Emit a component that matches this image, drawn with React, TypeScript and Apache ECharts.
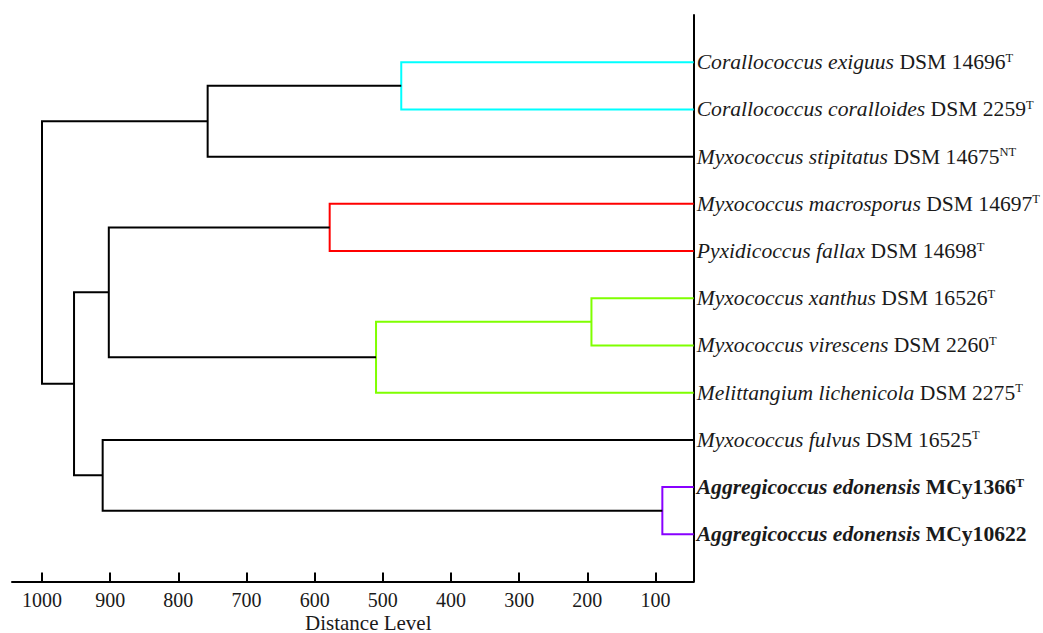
import React, { useEffect, useRef } from "react";
import * as echarts from "echarts";

// Leaves, top to bottom
const leafGenus = [
  "Corallococcus exiguus",
  "Corallococcus coralloides",
  "Myxococcus stipitatus",
  "Myxococcus macrosporus",
  "Pyxidicoccus fallax",
  "Myxococcus xanthus",
  "Myxococcus virescens",
  "Melittangium lichenicola",
  "Myxococcus fulvus",
  "Aggregicoccus edonensis",
  "Aggregicoccus edonensis",
];
const leafStrain = [
  "DSM 14696",
  "DSM 2259",
  "DSM 14675",
  "DSM 14697",
  "DSM 14698",
  "DSM 16526",
  "DSM 2260",
  "DSM 2275",
  "DSM 16525",
  "MCy1366",
  "MCy10622",
];
const leafSup = ["T", "T", "NT", "T", "T", "T", "T", "T", "T", "T", ""];
const leafBold = [false, false, false, false, false, false, false, false, false, true, true];

// Merges: ids 0..10 are leaves, 11.. are merge nodes in order
const mergeA = [0, 11, 3, 5, 14, 13, 9, 8, 16, 12];
const mergeB = [1, 2, 4, 6, 7, 15, 10, 17, 18, 19];
const mergeHeight = [473, 757, 578, 194, 510, 902, 90, 911, 953, 1000];
const mergeColor = [
  "#00FFFF",
  "#000000",
  "#FF0000",
  "#7FFF00",
  "#7FFF00",
  "#000000",
  "#8800FF",
  "#000000",
  "#000000",
  "#000000",
];

const xTicks = [100, 200, 300, 400, 500, 600, 700, 800, 900, 1000];
const axisMinDistance = 44;
const axisMaxDistance = 1044;

export default function App() {
  const ref = useRef<HTMLDivElement>(null);
  useEffect(() => {
    if (!ref.current) return;
    const chart = echarts.init(ref.current, null, { renderer: "svg" });

    const n = leafGenus.length;
    const posX: number[] = [];
    const posY: number[] = [];
    for (let i = 0; i < n; i++) {
      posX.push(axisMinDistance);
      posY.push(i);
    }
    const linesData: any[] = [];
    for (let k = 0; k < mergeA.length; k++) {
      const a = mergeA[k];
      const b = mergeB[k];
      const h = mergeHeight[k];
      posX.push(h);
      posY.push((posY[a] + posY[b]) / 2);
      linesData.push({
        coords: [
          [posX[a], posY[a]],
          [h, posY[a]],
          [h, posY[b]],
          [posX[b], posY[b]],
        ],
        lineStyle: { color: mergeColor[k] },
      });
    }

    const font = "'Liberation Serif', 'Times New Roman', serif";
    const base = { fontFamily: font, fontSize: 21.6, color: "#1a1a1a", lineHeight: 22 };
    const sup = { fontFamily: font, fontSize: 12.5, color: "#1a1a1a", lineHeight: 12, verticalAlign: "top" };

    chart.setOption({
      animation: false,
      backgroundColor: "#ffffff",
      grid: { left: 12, right: 346.5, top: 15, bottom: 51.5, containLabel: false },
      xAxis: {
        type: "value",
        min: axisMinDistance,
        max: axisMaxDistance,
        inverse: true,
        axisLine: { show: true, onZero: false, lineStyle: { color: "#000", width: 2 } },
        axisTick: {
          show: true,
          inside: true,
          length: 9,
          customValues: xTicks,
          lineStyle: { color: "#000", width: 2 },
        },
        axisLabel: {
          customValues: xTicks,
          margin: 8,
          fontFamily: font,
          fontSize: 20,
          color: "#1a1a1a",
          formatter: (v: number) => String(v),
        },
        splitLine: { show: false },
      },
      yAxis: {
        type: "value",
        min: -1,
        max: 11,
        interval: 1,
        inverse: true,
        position: "right",
        axisLine: { show: true, onZero: false, lineStyle: { color: "#000", width: 2 } },
        axisTick: { show: false },
        splitLine: { show: false },
        axisLabel: {
          margin: 3,
          align: "left",
          formatter: (v: number) => {
            const i = Math.round(v);
            if (i < 0 || i >= n || Math.abs(v - i) > 1e-6) return "";
            const b = leafBold[i];
            const sp = leafSup[i] ? `{${b ? "bs" : "s"}|${leafSup[i]}}` : "";
            return `{${b ? "bi" : "i"}|${leafGenus[i]}}{${b ? "b" : "r"}| ${leafStrain[i]}}${sp}`;
          },
          rich: {
            i: { ...base, fontStyle: "italic" },
            r: { ...base },
            s: { ...sup },
            bi: { ...base, fontStyle: "italic", fontWeight: "bold" },
            b: { ...base, fontWeight: "bold" },
            bs: { ...sup, fontWeight: "bold" },
          },
        },
      },
      graphic: [
        {
          type: "text",
          left: 305,
          top: 612,
          style: {
            text: "Distance Level",
            fontFamily: font,
            fontSize: 21,
            fill: "#1a1a1a",
          },
        },
      ],
      series: [
        {
          type: "lines",
          coordinateSystem: "cartesian2d",
          polyline: true,
          silent: true,
          lineStyle: { width: 2, opacity: 1 },
          data: linesData,
        },
      ],
    });
    return () => chart.dispose();
  }, []);
  return (
    <div
      ref={ref}
      style={{ position: "absolute", left: 0, top: 0, width: 1043, height: 633, background: "#fff" }}
    />
  );
}
